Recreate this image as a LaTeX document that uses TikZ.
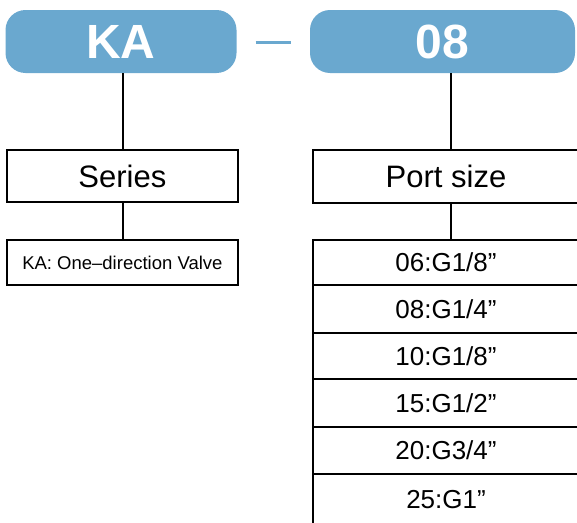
\documentclass[tikz,border=0pt]{standalone}
\usepackage{fontspec}
\setmainfont{Liberation Sans}
\definecolor{kblue}{RGB}{106,168,207}
\begin{document}
\begin{tikzpicture}[x=1pt,y=-1pt,
  codebox/.style={fill=kblue, rounded corners=20pt, inner sep=0pt, text=white,
    font=\fontsize{48}{48}\selectfont\bfseries},
  frame/.style={draw=black, line width=2pt, inner sep=0pt, fill=white},
  bigtxt/.style={font=\fontsize{31}{31}\selectfont},
  rowtxt/.style={font=\fontsize{26}{26}\selectfont},
  desctxt/.style={font=\fontsize{18.5}{18.5}\selectfont},
  link/.style={line width=2pt, draw=black},
  dashlink/.style={line width=2.5pt, draw=kblue}]
\useasboundingbox (0,0) rectangle (577,522);
% code boxes
\node[codebox, minimum width=231pt, minimum height=63pt] (ka) at (121,41.5) {\raisebox{-3pt}{KA}};
\node[codebox, minimum width=265pt, minimum height=63pt] (v08) at (442.5,41.5) {\raisebox{-2pt}{08}};
\draw[dashlink] ([xshift=19pt,yshift=-0.8pt]ka.east) -- ([xshift=-19pt,yshift=-0.8pt]v08.west);
% left column
\node[frame, bigtxt, minimum width=231pt, minimum height=52pt] (series) at (122.35,176) {Series};
\node[frame, desctxt, minimum width=231pt, minimum height=45pt] (desc) at (122.35,262.5) {KA: One--direction Valve};
% right column
\node[frame, bigtxt, minimum width=266pt, minimum height=52.7pt] (ps) at (446,176.35) {Port size};
\node[frame, rowtxt, minimum width=266pt, minimum height=44.5pt] (r1) at (446,262.25) {06:G1/8”};
\node[frame, rowtxt, minimum width=266pt, minimum height=48.5pt] (r2) at (446,308.75) {08:G1/4”};
\node[frame, rowtxt, minimum width=266pt, minimum height=46pt] (r3) at (446,356) {10:G1/8”};
\node[frame, rowtxt, minimum width=266pt, minimum height=48pt] (r4) at (446,403) {15:G1/2”};
\node[frame, rowtxt, minimum width=266pt, minimum height=47pt] (r5) at (446,450.5) {20:G3/4”};
\node[frame, rowtxt, minimum width=266pt, minimum height=56pt] (r6) at (446,502) {\raisebox{4.5pt}{25:G1”}};
% connectors
\coordinate (lx) at (123,0);
\coordinate (rx) at (451,0);
\draw[link] (ka.south -| lx) -- (series.north -| lx);
\draw[link] (series.south -| lx) -- (desc.north -| lx);
\draw[link] (v08.south -| rx) -- (ps.north -| rx);
\draw[link] (ps.south -| rx) -- (r1.north -| rx);
\end{tikzpicture}
\end{document}
